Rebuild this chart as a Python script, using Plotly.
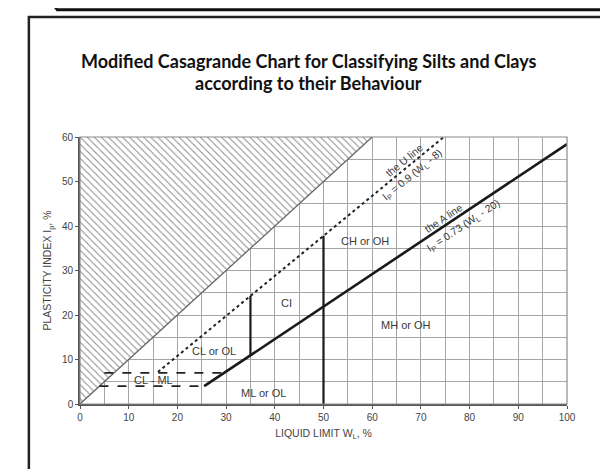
import plotly.graph_objects as go

# ---------------- data ----------------
x_ticks = [0, 10, 20, 30, 40, 50, 60, 70, 80, 90, 100]
y_ticks = [0, 10, 20, 30, 40, 50, 60]

# hatched zone above I_p = W_L
hatch_x = [0, 0, 60, 0]
hatch_y = [0, 60, 60, 0]
# boundary line I_p = W_L
edge_x = [0, 60]
edge_y = [0, 60]
# U line  I_p = 0.9 (W_L - 8)
u_x = [16, 74.7]
u_y = [7.2, 60]
# A line  I_p = 0.73 (W_L - 20)
a_x = [25.5, 100]
a_y = [4, 58.4]
# CL-ML dashed limits
dash_hi_x = [5, 29.6]
dash_hi_y = [7, 7]
dash_lo_x = [4, 25.5]
dash_lo_y = [4, 4]
# vertical dividers
v35_x = [35, 35]
v35_y = [10.95, 24.3]
v50_x = [50, 50]
v50_y = [0, 37.8]

zone_names = ["CH or OH", "CI", "MH or OH", "CL or OL", "CL - ML", "ML or OL"]
zone_x = [58.6, 42.4, 67, 27.6, 15.1, 37.7]
zone_y = [36.6, 22.7, 17.8, 11.9, 5.5, 2.4]

line_texts = ["the U line", "I<sub>P</sub> = 0.9 (W<sub>L</sub> - 8)",
              "the A line", "I<sub>P</sub> = 0.73 (W<sub>L</sub> - 20)"]
line_text_x = [66.6, 68.3, 74.6, 78.7]
line_text_y = [54.8, 51.4, 41.8, 40.0]
line_text_angle = [-39.5, -39.5, -33.7, -33.7]

# ---------------- figure ----------------
fig = go.Figure()

fig.add_trace(go.Scatter(
    x=hatch_x, y=hatch_y, mode="lines", fill="toself",
    line=dict(width=0, color="rgba(0,0,0,0)"),
    fillcolor="white",
    fillpattern=dict(shape="\\", size=5, solidity=0.2, fgcolor="#8a8a8a",
                     bgcolor="white", fillmode="replace"),
    hoverinfo="skip", showlegend=False))

fig.add_trace(go.Scatter(x=edge_x, y=edge_y, mode="lines",
                         line=dict(color="#666", width=1.3), showlegend=False))
fig.add_trace(go.Scatter(x=u_x, y=u_y, mode="lines",
                         line=dict(color="#222", width=2.0, dash="dot"), showlegend=False))
fig.add_trace(go.Scatter(x=a_x, y=a_y, mode="lines",
                         line=dict(color="#1a1a1a", width=2.6), showlegend=False))
for xs, ys in [(dash_hi_x, dash_hi_y), (dash_lo_x, dash_lo_y)]:
    fig.add_trace(go.Scatter(x=xs, y=ys, mode="lines",
                             line=dict(color="#222", width=1.8, dash="dash"), showlegend=False))
for xs, ys in [(v35_x, v35_y), (v50_x, v50_y)]:
    fig.add_trace(go.Scatter(x=xs, y=ys, mode="lines",
                             line=dict(color="#1a1a1a", width=2.2), showlegend=False))

FONT = "Liberation Sans, Arial, sans-serif"
txt_font = dict(family=FONT, size=11, color="#3a3a3a")
for name, zx, zy in zip(zone_names, zone_x, zone_y):
    fig.add_annotation(x=zx, y=zy, text=name, showarrow=False, font=txt_font)
for t, tx, ty, ang in zip(line_texts, line_text_x, line_text_y, line_text_angle):
    fig.add_annotation(x=tx, y=ty, text=t, showarrow=False, textangle=ang,
                       font=dict(family=FONT, size=10.5, color="#3a3a3a"))

# title
fig.add_annotation(xref="paper", yref="paper", x=0.47, y=1.2846, yanchor="middle", showarrow=False,
                   text="<b>Modified Casagrande Chart for Classifying Silts and Clays</b>",
                   font=dict(family="Lato, sans-serif", size=18, color="#111"))
fig.add_annotation(xref="paper", yref="paper", x=0.47, y=1.2022, yanchor="middle", showarrow=False,
                   text="<b>according to their Behaviour</b>",
                   font=dict(family="Lato, sans-serif", size=18, color="#111"))

# outer frame and top bar remnant
fig.add_shape(type="rect", xref="paper", yref="paper", x0=-0.105, x1=1.12, y0=-0.264, y1=1.449,
              line=dict(color="#222", width=2.5), layer="below")
fig.add_shape(type="line", xref="paper", yref="paper", x0=-0.049, x1=1.12, y0=1.477, y1=1.477,
              line=dict(color="#111", width=3))
fig.add_shape(type="line", xref="paper", yref="paper", x0=-0.049, x1=-0.049, y0=1.477, y1=1.52,
              line=dict(color="#111", width=3))
# plot border top/right
fig.add_shape(type="rect", xref="x domain", yref="y domain", x0=0, x1=1, y0=0, y1=1,
              line=dict(color="#8a8a8a", width=1.2))

grid_c = "#a6a6a6"
tick_font = dict(family=FONT, size=10, color="#444")
title_font = dict(family=FONT, size=10.5, color="#444")
fig.update_xaxes(range=[0, 100], tickvals=x_ticks, ticks="outside", ticklen=3, tickcolor="#555",
                 showgrid=True, gridcolor=grid_c, gridwidth=1.2,
                 minor=dict(dtick=5, showgrid=True, gridcolor=grid_c, gridwidth=1.2),
                 showline=True, linecolor="#555", linewidth=1.6, zeroline=False,
                 tickfont=tick_font,
                 title=dict(text="LIQUID LIMIT W<sub>L</sub>, %", standoff=8, font=title_font))
fig.update_yaxes(range=[0, 60], tickvals=y_ticks, ticks="outside", ticklen=3, tickcolor="#555",
                 showgrid=True, gridcolor=grid_c, gridwidth=1.2,
                 minor=dict(dtick=5, showgrid=True, gridcolor=grid_c, gridwidth=1.2),
                 showline=True, linecolor="#555", linewidth=1.6, zeroline=False,
                 tickfont=tick_font,
                 title=dict(text="PLASTICITY INDEX I<sub>p</sub>, %", standoff=8, font=title_font))

fig.update_layout(width=608, height=469, margin=dict(l=72, r=49, t=129, b=73),
                  plot_bgcolor="white", paper_bgcolor="white", showlegend=False)

fig.write_html("out.html")
